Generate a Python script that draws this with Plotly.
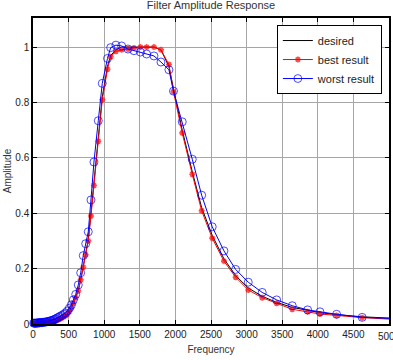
import plotly.graph_objects as go

freq = [10, 20, 30, 40, 50, 60, 70, 80, 90, 100, 110, 120, 135, 150, 165, 180, 195, 210, 225, 240,
        255, 270, 286, 303, 321, 340, 360, 382, 405, 429, 455,
        482, 510, 538, 566, 600, 636, 670, 706, 740, 776, 814, 856, 917, 973, 1046, 1091, 1165, 1245,
        1334, 1418, 1509, 1596, 1699, 1797, 1909, 1973, 2096, 2237, 2369, 2517, 2682, 2846, 3023,
        3219, 3422, 3641, 3857, 4030, 4264, 4623, 5200]

desired = [0.001, 0.001, 0.001, 0.001, 0.001, 0.001, 0.002, 0.002, 0.002, 0.002, 0.002, 0.003, 0.003,
           0.003, 0.004, 0.004, 0.005, 0.005, 0.006, 0.007, 0.007, 0.008, 0.009, 0.010, 0.012, 0.014,
           0.016, 0.019, 0.022, 0.026, 0.030,
           0.036, 0.046, 0.059, 0.076, 0.096, 0.122, 0.158, 0.205, 0.25, 0.305, 0.40, 0.51, 0.67,
           0.82, 0.93, 0.97, 0.99, 1.0, 1.0, 1.0, 1.0, 1.0, 1.0, 0.99, 0.93, 0.85, 0.70, 0.55, 0.42,
           0.32, 0.235, 0.175, 0.13, 0.10, 0.078, 0.06, 0.048, 0.041, 0.034, 0.026, 0.019]

best = [0.001, 0.001, 0.001, 0.001, 0.001, 0.001, 0.002, 0.002, 0.002, 0.002, 0.002, 0.003, 0.003,
        0.003, 0.004, 0.004, 0.005, 0.005, 0.006, 0.007, 0.007, 0.008, 0.009, 0.010, 0.012, 0.014,
        0.016, 0.019, 0.022, 0.026, 0.030,
        0.035, 0.045, 0.058, 0.075, 0.095, 0.12, 0.16, 0.205, 0.25, 0.30, 0.39, 0.50, 0.66, 0.81,
        0.92, 0.965, 0.985, 0.99, 0.993, 0.997, 1.0, 1.0, 1.0, 0.99, 0.937, 0.839, 0.69, 0.541,
        0.409, 0.31, 0.227, 0.169, 0.123, 0.095, 0.075, 0.053, 0.044, 0.036, 0.031, 0.023, 0.015]

worst = [0.003, 0.003, 0.003, 0.003, 0.003, 0.004, 0.004, 0.004, 0.004, 0.005, 0.005, 0.005, 0.006,
         0.006, 0.007, 0.007, 0.008, 0.009, 0.010, 0.011, 0.012, 0.013, 0.015, 0.017, 0.019, 0.022,
         0.025, 0.028, 0.031, 0.035, 0.040,
         0.047, 0.057, 0.069, 0.087, 0.107, 0.141, 0.185, 0.247, 0.29, 0.333, 0.448, 0.585, 0.734,
         0.869, 0.959, 0.998, 1.007, 1.004, 0.993, 0.987, 0.982, 0.975, 0.968, 0.946, 0.918, 0.841,
         0.730, 0.595, 0.465, 0.351, 0.264, 0.197, 0.151, 0.114, 0.087, 0.066, 0.051, 0.044, 0.035,
         0.024, 0.018]

x_ticks = [0, 500, 1000, 1500, 2000, 2500, 3000, 3500, 4000, 4500, 5000]
y_ticks = [0, 0.2, 0.4, 0.6, 0.8, 1]
y_tick_text = ["0", "0.2", "0.4", "0.6", "0.8", "1"]

FONT = "Liberation Sans, Arial"
n = len(freq)
sizes_best = [5] * (n - 1) + [0]
sizes_worst = [8] * (n - 1) + [0]

fig = go.Figure()
fig.add_trace(go.Scatter(x=freq, y=desired, mode="lines", name="desired",
                         line=dict(color="black", width=1)))
fig.add_trace(go.Scatter(x=freq, y=best, mode="lines+markers", name="best result",
                         line=dict(color="red", width=1), cliponaxis=False,
                         marker=dict(symbol="asterisk-open", size=sizes_best, color="red",
                                     line=dict(color="red", width=1.6))))
fig.add_trace(go.Scatter(x=freq, y=worst, mode="lines+markers", name="worst result",
                         line=dict(color="blue", width=1), cliponaxis=False,
                         marker=dict(symbol="circle-open", size=sizes_worst, color="blue",
                                     line=dict(color="blue", width=1))))

axis_common = dict(showline=True, linecolor="black", linewidth=1.5, mirror="ticks",
                   ticks="inside", ticklen=4, tickcolor="black", showgrid=True,
                   gridcolor="#a6a6a6", gridwidth=1, zeroline=False,
                   tickfont=dict(family=FONT, size=10, color="#222"))

# last x tick label (5000) gets clipped at the page edge in the reference
fig.update_xaxes(range=[0, 5000], tickvals=x_ticks,
                 ticktext=[str(v) if v != 5000 else "" for v in x_ticks],
                 title=dict(text="Frequency", font=dict(family=FONT, size=10, color="#333"),
                            standoff=7),
                 **axis_common)
fig.update_yaxes(range=[0, 1.105], tickvals=y_ticks, ticktext=y_tick_text,
                 title=dict(text="Amplitude", font=dict(family=FONT, size=10, color="#333"),
                            standoff=2),
                 **axis_common)

fig.add_annotation(x=x_ticks[-1], xref="x", y=0, yref="paper", yanchor="top", xanchor="center",
                   yshift=-5, text=str(x_ticks[-1]), showarrow=False,
                   font=dict(family=FONT, size=10, color="#222"))

fig.update_layout(
    width=393, height=360,
    margin=dict(l=33, r=4, t=18, b=36, autoexpand=False),
    paper_bgcolor="white", plot_bgcolor="white",
    title=dict(text="Filter Amplitude Response", x=0.537, xanchor="center", y=0.996, yanchor="top",
               font=dict(family=FONT, size=11, color="#333")),
    showlegend=True,
    legend=dict(x=0.685, y=0.977, xanchor="left", yanchor="top", bgcolor="white",
                bordercolor="black", borderwidth=1,
                font=dict(family=FONT, size=11, color="#222"),
                tracegroupgap=0, itemwidth=30),
)

fig.write_html("out.html")
